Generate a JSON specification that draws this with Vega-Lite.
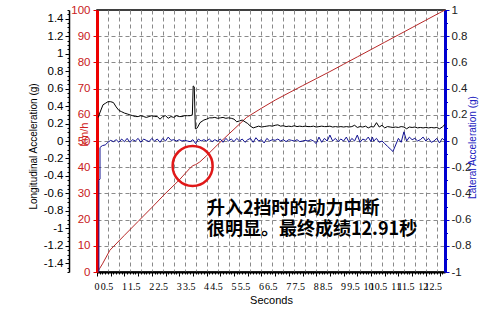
{
  "$schema": "https://vega.github.io/schema/vega-lite/v6.json",
  "width": 348,
  "height": 262,
  "autosize": "none",
  "padding": {"left": 97, "top": 10, "right": 55, "bottom": 45},
  "background": "white",
  "config": {
    "view": {"stroke": "black", "strokeWidth": 1.5},
    "font": "Liberation Sans",
    "axis": {"labelFont": "Liberation Sans", "titleFont": "Liberation Sans", "titleFontWeight": "normal"}
  },
  "datasets": {
    "speed": [
      {"t": 0.02, "v": 0}, {"t": 0.1, "v": 1.4}, {"t": 0.2, "v": 3.1}, {"t": 0.47, "v": 8.3},
      {"t": 1.0, "v": 14.0}, {"t": 1.5, "v": 19.3}, {"t": 2.0, "v": 24.6}, {"t": 2.48, "v": 29.8},
      {"t": 3.0, "v": 35.1}, {"t": 3.39, "v": 39.6}, {"t": 3.5, "v": 40.6}, {"t": 3.6, "v": 41.0},
      {"t": 3.75, "v": 42.0}, {"t": 4.0, "v": 44.4}, {"t": 4.42, "v": 48.8}, {"t": 5.0, "v": 54.5},
      {"t": 5.46, "v": 59.0}, {"t": 6.0, "v": 62.5}, {"t": 6.5, "v": 65.6}, {"t": 7.04, "v": 68.6},
      {"t": 7.5, "v": 71.1}, {"t": 8.0, "v": 73.8}, {"t": 8.5, "v": 76.5}, {"t": 9.0, "v": 79.3},
      {"t": 9.5, "v": 82.1}, {"t": 10.0, "v": 84.9}, {"t": 10.5, "v": 87.7}, {"t": 11.0, "v": 90.5},
      {"t": 11.5, "v": 93.3}, {"t": 12.0, "v": 96.1}, {"t": 12.5, "v": 98.9}, {"t": 12.7, "v": 100}
    ],
    "long": [
      {"t": 0.05, "g": 0.27}, {"t": 0.1, "g": 0.32}, {"t": 0.22, "g": 0.415}, {"t": 0.3, "g": 0.43},
      {"t": 0.4, "g": 0.45}, {"t": 0.5, "g": 0.45}, {"t": 0.6, "g": 0.44}, {"t": 0.7, "g": 0.39},
      {"t": 0.8, "g": 0.35}, {"t": 0.9, "g": 0.335}, {"t": 1.0, "g": 0.32}, {"t": 1.1, "g": 0.31},
      {"t": 1.2, "g": 0.30}, {"t": 1.3, "g": 0.29}, {"t": 1.4, "g": 0.28}, {"t": 1.5, "g": 0.28},
      {"t": 1.6, "g": 0.29}, {"t": 1.7, "g": 0.28}, {"t": 1.8, "g": 0.27}, {"t": 1.9, "g": 0.28},
      {"t": 2.0, "g": 0.29}, {"t": 2.1, "g": 0.28}, {"t": 2.2, "g": 0.28}, {"t": 2.3, "g": 0.25},
      {"t": 2.4, "g": 0.28}, {"t": 2.5, "g": 0.29}, {"t": 2.6, "g": 0.26}, {"t": 2.7, "g": 0.28},
      {"t": 2.8, "g": 0.27}, {"t": 2.9, "g": 0.29}, {"t": 3.0, "g": 0.28}, {"t": 3.1, "g": 0.28},
      {"t": 3.2, "g": 0.29}, {"t": 3.3, "g": 0.29}, {"t": 3.4, "g": 0.29}, {"t": 3.48, "g": 0.30},
      {"t": 3.51, "g": 0.63}, {"t": 3.55, "g": 0.62}, {"t": 3.59, "g": 0.14}, {"t": 3.66, "g": 0.15},
      {"t": 3.76, "g": 0.21}, {"t": 3.9, "g": 0.24}, {"t": 4.0, "g": 0.25}, {"t": 4.1, "g": 0.265},
      {"t": 4.2, "g": 0.265}, {"t": 4.3, "g": 0.27}, {"t": 4.4, "g": 0.26}, {"t": 4.5, "g": 0.265},
      {"t": 4.6, "g": 0.27}, {"t": 4.7, "g": 0.26}, {"t": 4.8, "g": 0.265}, {"t": 4.9, "g": 0.26},
      {"t": 5.0, "g": 0.25}, {"t": 5.1, "g": 0.22}, {"t": 5.2, "g": 0.23}, {"t": 5.3, "g": 0.24},
      {"t": 5.4, "g": 0.22}, {"t": 5.5, "g": 0.20}, {"t": 5.6, "g": 0.17}, {"t": 5.7, "g": 0.15},
      {"t": 5.8, "g": 0.16}, {"t": 5.9, "g": 0.17}, {"t": 6.0, "g": 0.16}, {"t": 6.1, "g": 0.165},
      {"t": 6.2, "g": 0.17}, {"t": 6.3, "g": 0.175}, {"t": 6.4, "g": 0.17}, {"t": 6.5, "g": 0.18},
      {"t": 6.6, "g": 0.185}, {"t": 6.7, "g": 0.17}, {"t": 6.8, "g": 0.175}, {"t": 6.9, "g": 0.165},
      {"t": 7.0, "g": 0.17}, {"t": 7.1, "g": 0.165}, {"t": 7.2, "g": 0.175}, {"t": 7.3, "g": 0.165},
      {"t": 7.4, "g": 0.17}, {"t": 7.5, "g": 0.165}, {"t": 7.6, "g": 0.17}, {"t": 7.7, "g": 0.165},
      {"t": 7.8, "g": 0.165}, {"t": 7.9, "g": 0.17}, {"t": 8.0, "g": 0.16}, {"t": 8.1, "g": 0.165},
      {"t": 8.2, "g": 0.17}, {"t": 8.3, "g": 0.165}, {"t": 8.4, "g": 0.165}, {"t": 8.5, "g": 0.17},
      {"t": 8.6, "g": 0.16}, {"t": 8.7, "g": 0.165}, {"t": 8.8, "g": 0.16}, {"t": 8.9, "g": 0.165},
      {"t": 9.0, "g": 0.16}, {"t": 9.1, "g": 0.165}, {"t": 9.2, "g": 0.16}, {"t": 9.3, "g": 0.165},
      {"t": 9.4, "g": 0.18}, {"t": 9.5, "g": 0.155}, {"t": 9.6, "g": 0.165}, {"t": 9.7, "g": 0.16},
      {"t": 9.8, "g": 0.17}, {"t": 9.9, "g": 0.15}, {"t": 10.0, "g": 0.165}, {"t": 10.1, "g": 0.16},
      {"t": 10.2, "g": 0.21}, {"t": 10.3, "g": 0.16}, {"t": 10.4, "g": 0.18}, {"t": 10.5, "g": 0.15},
      {"t": 10.6, "g": 0.165}, {"t": 10.7, "g": 0.16}, {"t": 10.8, "g": 0.155}, {"t": 10.9, "g": 0.16},
      {"t": 11.0, "g": 0.155}, {"t": 11.1, "g": 0.165}, {"t": 11.2, "g": 0.16}, {"t": 11.3, "g": 0.14},
      {"t": 11.4, "g": 0.16}, {"t": 11.5, "g": 0.155}, {"t": 11.6, "g": 0.16}, {"t": 11.7, "g": 0.15},
      {"t": 11.8, "g": 0.155}, {"t": 11.9, "g": 0.15}, {"t": 12.0, "g": 0.155}, {"t": 12.1, "g": 0.15},
      {"t": 12.2, "g": 0.155}, {"t": 12.3, "g": 0.15}, {"t": 12.4, "g": 0.155}, {"t": 12.5, "g": 0.14},
      {"t": 12.6, "g": 0.16}, {"t": 12.7, "g": 0.19}
    ],
    "lat": [
      {"t": 0.07, "a": -1.0}, {"t": 0.07, "a": -0.30}, {"t": 0.11, "a": -0.29}, {"t": 0.11, "a": -0.05},
      {"t": 0.14, "a": -0.044}, {"t": 0.2, "a": -0.035}, {"t": 0.3, "a": -0.03}, {"t": 0.4, "a": -0.01},
      {"t": 0.5, "a": 0.005}, {"t": 0.6, "a": -0.005}, {"t": 0.7, "a": 0.01}, {"t": 0.8, "a": -0.01},
      {"t": 0.9, "a": 0.015}, {"t": 1.0, "a": -0.005}, {"t": 1.1, "a": 0.02}, {"t": 1.2, "a": -0.01},
      {"t": 1.3, "a": 0.01}, {"t": 1.4, "a": 0.0}, {"t": 1.5, "a": 0.02}, {"t": 1.6, "a": -0.01},
      {"t": 1.7, "a": 0.015}, {"t": 1.8, "a": 0.005}, {"t": 1.9, "a": -0.005}, {"t": 2.0, "a": 0.02},
      {"t": 2.1, "a": 0.0}, {"t": 2.2, "a": 0.015}, {"t": 2.3, "a": -0.01}, {"t": 2.4, "a": 0.02},
      {"t": 2.5, "a": 0.0}, {"t": 2.6, "a": 0.03}, {"t": 2.7, "a": 0.005}, {"t": 2.8, "a": 0.01},
      {"t": 2.9, "a": 0.0}, {"t": 3.0, "a": 0.01}, {"t": 3.1, "a": 0.0}, {"t": 3.2, "a": 0.005},
      {"t": 3.3, "a": 0.0}, {"t": 3.4, "a": -0.005}, {"t": 3.5, "a": 0.01}, {"t": 3.6, "a": -0.02},
      {"t": 3.7, "a": 0.015}, {"t": 3.8, "a": 0.0}, {"t": 3.9, "a": 0.01}, {"t": 4.0, "a": 0.0},
      {"t": 4.1, "a": 0.015}, {"t": 4.2, "a": -0.005}, {"t": 4.3, "a": 0.01}, {"t": 4.4, "a": 0.0},
      {"t": 4.5, "a": 0.015}, {"t": 4.6, "a": -0.01}, {"t": 4.7, "a": 0.02}, {"t": 4.8, "a": 0.0},
      {"t": 4.9, "a": 0.015}, {"t": 5.0, "a": -0.005}, {"t": 5.1, "a": 0.02}, {"t": 5.2, "a": 0.0},
      {"t": 5.3, "a": 0.015}, {"t": 5.4, "a": -0.01}, {"t": 5.5, "a": 0.01}, {"t": 5.6, "a": 0.02},
      {"t": 5.7, "a": -0.01}, {"t": 5.8, "a": 0.025}, {"t": 5.9, "a": 0.0}, {"t": 6.0, "a": 0.01},
      {"t": 6.1, "a": -0.015}, {"t": 6.2, "a": 0.02}, {"t": 6.3, "a": 0.0}, {"t": 6.4, "a": 0.01},
      {"t": 6.5, "a": 0.005}, {"t": 6.6, "a": 0.015}, {"t": 6.7, "a": 0.0}, {"t": 6.8, "a": 0.01},
      {"t": 6.9, "a": -0.005}, {"t": 7.0, "a": 0.01}, {"t": 7.1, "a": 0.005}, {"t": 7.2, "a": 0.0},
      {"t": 7.3, "a": 0.01}, {"t": 7.4, "a": -0.005}, {"t": 7.5, "a": 0.0}, {"t": 7.6, "a": 0.005},
      {"t": 7.7, "a": 0.0}, {"t": 7.8, "a": 0.01}, {"t": 7.9, "a": 0.0}, {"t": 8.0, "a": -0.02},
      {"t": 8.1, "a": 0.03}, {"t": 8.2, "a": -0.01}, {"t": 8.3, "a": 0.02}, {"t": 8.4, "a": 0.0},
      {"t": 8.5, "a": 0.045}, {"t": 8.6, "a": 0.0}, {"t": 8.7, "a": 0.02}, {"t": 8.8, "a": -0.005},
      {"t": 8.9, "a": 0.015}, {"t": 9.0, "a": 0.0}, {"t": 9.1, "a": 0.03}, {"t": 9.2, "a": -0.01},
      {"t": 9.3, "a": 0.02}, {"t": 9.4, "a": 0.0}, {"t": 9.5, "a": 0.045}, {"t": 9.6, "a": -0.01},
      {"t": 9.7, "a": 0.015}, {"t": 9.8, "a": 0.005}, {"t": 9.9, "a": 0.03}, {"t": 10.0, "a": -0.005},
      {"t": 10.05, "a": 0.03}, {"t": 10.1, "a": 0.0}, {"t": 10.2, "a": 0.02}, {"t": 10.3, "a": -0.01},
      {"t": 10.4, "a": 0.0}, {"t": 10.5, "a": -0.02}, {"t": 10.6, "a": -0.04}, {"t": 10.7, "a": -0.06},
      {"t": 10.8, "a": -0.08}, {"t": 10.9, "a": -0.03}, {"t": 11.0, "a": 0.02}, {"t": 11.1, "a": -0.01},
      {"t": 11.2, "a": 0.07}, {"t": 11.3, "a": 0.0}, {"t": 11.4, "a": 0.03}, {"t": 11.5, "a": 0.01},
      {"t": 11.6, "a": 0.02}, {"t": 11.7, "a": 0.0}, {"t": 11.8, "a": 0.01}, {"t": 11.9, "a": 0.03},
      {"t": 12.0, "a": 0.0}, {"t": 12.1, "a": 0.02}, {"t": 12.2, "a": -0.01}, {"t": 12.3, "a": 0.0},
      {"t": 12.4, "a": 0.02}, {"t": 12.5, "a": -0.015}, {"t": 12.6, "a": 0.02}, {"t": 12.7, "a": 0.0}
    ],
    "marker": [{"t": 3.49, "v": 40.5}],
    "note": [{"t": 4.01, "v": 27.5, "label": "升入2挡时的动力中断\n很明显。最终成绩12.91秒"}]
  },
  "layer": [
    {
      "data": {"name": "speed"},
      "mark": {"type": "line", "color": "#b82828", "strokeWidth": 1},
      "encoding": {
        "x": {
          "field": "t", "type": "quantitative",
          "scale": {"domain": [0, 12.7], "nice": false, "zero": false},
          "axis": {
            "orient": "bottom",
            "values": [0, 0.5, 1, 1.5, 2, 2.5, 3, 3.5, 4, 4.5, 5, 5.5, 6, 6.5, 7, 7.5, 8, 8.5, 9, 9.5, 10, 10.5, 11, 11.5, 12, 12.5],
            "format": "~g",
            "title": "Seconds", "titleFontSize": 11, "titleColor": "black", "titlePadding": 3,
            "labelFont": "Liberation Sans Narrow", "labelFontSize": 10, "labelColor": "black",
            "labelOverlap": false, "labelFlush": false, "labelAlign": "right", "labelOffset": 2,
            "labelPadding": 5, "tickSize": 4, "tickColor": "black",
            "domainColor": "black", "domainWidth": 2, "grid": false
          }
        },
        "y": {
          "field": "v", "type": "quantitative",
          "scale": {"domain": [0, 100], "nice": false, "zero": false},
          "axis": {
            "orient": "left",
            "values": [0, 10, 20, 30, 40, 50, 60, 70, 80, 90, 100],
            "title": "km/h", "titleColor": "#d02020", "titleFontSize": 11,
            "titleAngle": -90, "titleX": -13, "titleY": 124, "titleAlign": "center", "titleBaseline": "middle",
            "labelColor": "#c82020", "labelFontSize": 11.5, "labelPadding": 3,
            "tickColor": "#e00000", "tickSize": 4,
            "domainColor": "#ee0000", "domainWidth": 3,
            "grid": true, "gridDash": [4, 3], "gridColor": "#8a8a8a", "gridWidth": 1,
            "gridOpacity": {"condition": {"test": "datum.value == 0 || datum.value == 100", "value": 0}, "value": 1}
          }
        }
      }
    },
    {
      "data": {"name": "long"},
      "mark": {"type": "line", "color": "#000000", "strokeWidth": 1},
      "encoding": {
        "x": {
          "field": "t", "type": "quantitative",
          "axis": {
            "orient": "bottom",
            "values": [0.4, 0.8, 1.2, 1.6, 2.0, 2.4, 2.8, 3.2, 3.6, 4.0, 4.4, 4.8, 5.2, 5.6, 6.0, 6.4, 6.8, 7.2, 7.6, 8.0, 8.4, 8.8, 9.2, 9.6, 10.0, 10.4, 10.8, 11.2, 11.6, 12.0, 12.4],
            "grid": true, "gridDash": [4, 3], "gridColor": "#8a8a8a", "gridWidth": 1,
            "labels": false, "ticks": false, "domain": false, "title": null
          }
        },
        "y": {
          "field": "g", "type": "quantitative",
          "scale": {"domain": [-1.5, 1.5], "nice": false, "zero": false},
          "axis": {
            "orient": "left", "offset": 28,
            "values": [-1.4, -1.2, -1, -0.8, -0.6, -0.4, -0.2, 0, 0.2, 0.4, 0.6, 0.8, 1, 1.2, 1.4],
            "format": "~g",
            "labelExpr": "replace(datum.label, '\u2212', '-')",
            "title": "Longitudinal Acceleration (g)", "titleColor": "black", "titleFontSize": 10,
            "titleAngle": -90, "titleX": -36, "titleY": 136, "titleAlign": "center", "titleBaseline": "middle",
            "labelColor": "black", "labelFontSize": 11.5, "labelPadding": 2,
            "tickColor": "black", "tickSize": 4,
            "domainColor": "black", "domainWidth": 1.5, "grid": false
          }
        }
      }
    },
    {
      "data": {"name": "lat"},
      "mark": {"type": "line", "color": "#101090", "strokeWidth": 1},
      "encoding": {
        "x": {"field": "t", "type": "quantitative", "axis": null},
        "y": {
          "field": "a", "type": "quantitative",
          "scale": {"domain": [-1, 1], "nice": false, "zero": false},
          "axis": {
            "orient": "right",
            "values": [-1, -0.8, -0.6, -0.4, -0.2, 0, 0.2, 0.4, 0.6, 0.8, 1],
            "format": "~g",
            "labelExpr": "replace(datum.label, '\u2212', '-')",
            "title": "Lateral Acceleration (g)", "titleColor": "#2020c0", "titleFontSize": 10,
            "titleAngle": -90, "titleX": 27, "titleY": 137, "titleAlign": "center", "titleBaseline": "middle",
            "labelColor": "#202020", "labelFontSize": 11.5, "labelPadding": 2,
            "tickColor": "#0000d0", "tickSize": 4,
            "domainColor": "#0000d0", "domainWidth": 3, "grid": false
          }
        }
      }
    },
    {
      "data": {"name": "speed"},
      "mark": {"type": "point", "opacity": 0},
      "encoding": {
        "x": {
          "field": "t", "type": "quantitative",
          "axis": {
            "orient": "bottom",
            "values": [0.1, 0.2, 0.3, 0.4, 0.6, 0.7, 0.8, 0.9, 1.1, 1.2, 1.3, 1.4, 1.6, 1.7, 1.8, 1.9, 2.1, 2.2, 2.3, 2.4, 2.6, 2.7, 2.8, 2.9, 3.1, 3.2, 3.3, 3.4, 3.6, 3.7, 3.8, 3.9, 4.1, 4.2, 4.3, 4.4, 4.6, 4.7, 4.8, 4.9, 5.1, 5.2, 5.3, 5.4, 5.6, 5.7, 5.8, 5.9, 6.1, 6.2, 6.3, 6.4, 6.6, 6.7, 6.8, 6.9, 7.1, 7.2, 7.3, 7.4, 7.6, 7.7, 7.8, 7.9, 8.1, 8.2, 8.3, 8.4, 8.6, 8.7, 8.8, 8.9, 9.1, 9.2, 9.3, 9.4, 9.6, 9.7, 9.8, 9.9, 10.1, 10.2, 10.3, 10.4, 10.6, 10.7, 10.8, 10.9, 11.1, 11.2, 11.3, 11.4, 11.6, 11.7, 11.8, 11.9, 12.1, 12.2, 12.3, 12.4, 12.6],
            "labels": false, "domain": false, "grid": false, "title": null,
            "ticks": true, "tickSize": 2, "tickColor": "black"
          }
        },
        "y": {"field": "v", "type": "quantitative", "scale": {"domain": [0, 100], "nice": false, "zero": false}, "axis": null}
      }
    },
    {
      "data": {"name": "long"},
      "mark": {"type": "point", "opacity": 0},
      "encoding": {
        "x": {"field": "t", "type": "quantitative", "axis": null},
        "y": {
          "field": "g", "type": "quantitative",
          "scale": {"domain": [-1.5, 1.5], "nice": false, "zero": false},
          "axis": {
            "orient": "left", "offset": 28,
            "values": [-1.5, -1.45, -1.35, -1.3, -1.25, -1.15, -1.1, -1.05, -0.95, -0.9, -0.85, -0.75, -0.7, -0.65, -0.55, -0.5, -0.45, -0.35, -0.3, -0.25, -0.15, -0.1, -0.05, 0.05, 0.1, 0.15, 0.25, 0.3, 0.35, 0.45, 0.5, 0.55, 0.65, 0.7, 0.75, 0.85, 0.9, 0.95, 1.05, 1.1, 1.15, 1.25, 1.3, 1.35, 1.45, 1.5],
            "labels": false, "domain": false, "grid": false, "title": null,
            "ticks": true, "tickSize": 2, "tickColor": "black"
          }
        }
      }
    },
    {
      "data": {"name": "lat"},
      "mark": {"type": "point", "opacity": 0},
      "encoding": {
        "x": {"field": "t", "type": "quantitative", "axis": null},
        "y": {
          "field": "a", "type": "quantitative",
          "scale": {"domain": [-1, 1], "nice": false, "zero": false},
          "axis": {
            "orient": "right",
            "values": [-0.9, -0.7, -0.5, -0.3, -0.1, 0.1, 0.3, 0.5, 0.7, 0.9],
            "labels": false, "domain": false, "grid": false, "title": null,
            "ticks": true, "tickSize": 2.5, "tickColor": "#0000d0"
          }
        }
      }
    },
    {
      "data": {"name": "marker"},
      "mark": {"type": "point", "shape": "circle", "size": 1600, "filled": false, "stroke": "#e01818", "strokeWidth": 2.5, "opacity": 1},
      "encoding": {
        "x": {"field": "t", "type": "quantitative", "axis": null},
        "y": {"field": "v", "type": "quantitative", "scale": {"domain": [0, 100], "nice": false, "zero": false}, "axis": null}
      }
    },
    {
      "data": {"name": "note"},
      "mark": {"type": "text", "align": "left", "baseline": "top", "font": "Noto Sans CJK SC", "fontWeight": "bold", "fontSize": 18, "lineBreak": "\n", "lineHeight": 21, "color": "black"},
      "encoding": {
        "x": {"field": "t", "type": "quantitative", "axis": null},
        "y": {"field": "v", "type": "quantitative", "scale": {"domain": [0, 100], "nice": false, "zero": false}, "axis": null},
        "text": {"field": "label"}
      }
    }
  ],
  "resolve": {"scale": {"y": "independent"}, "axis": {"x": "independent", "y": "independent"}}
}
